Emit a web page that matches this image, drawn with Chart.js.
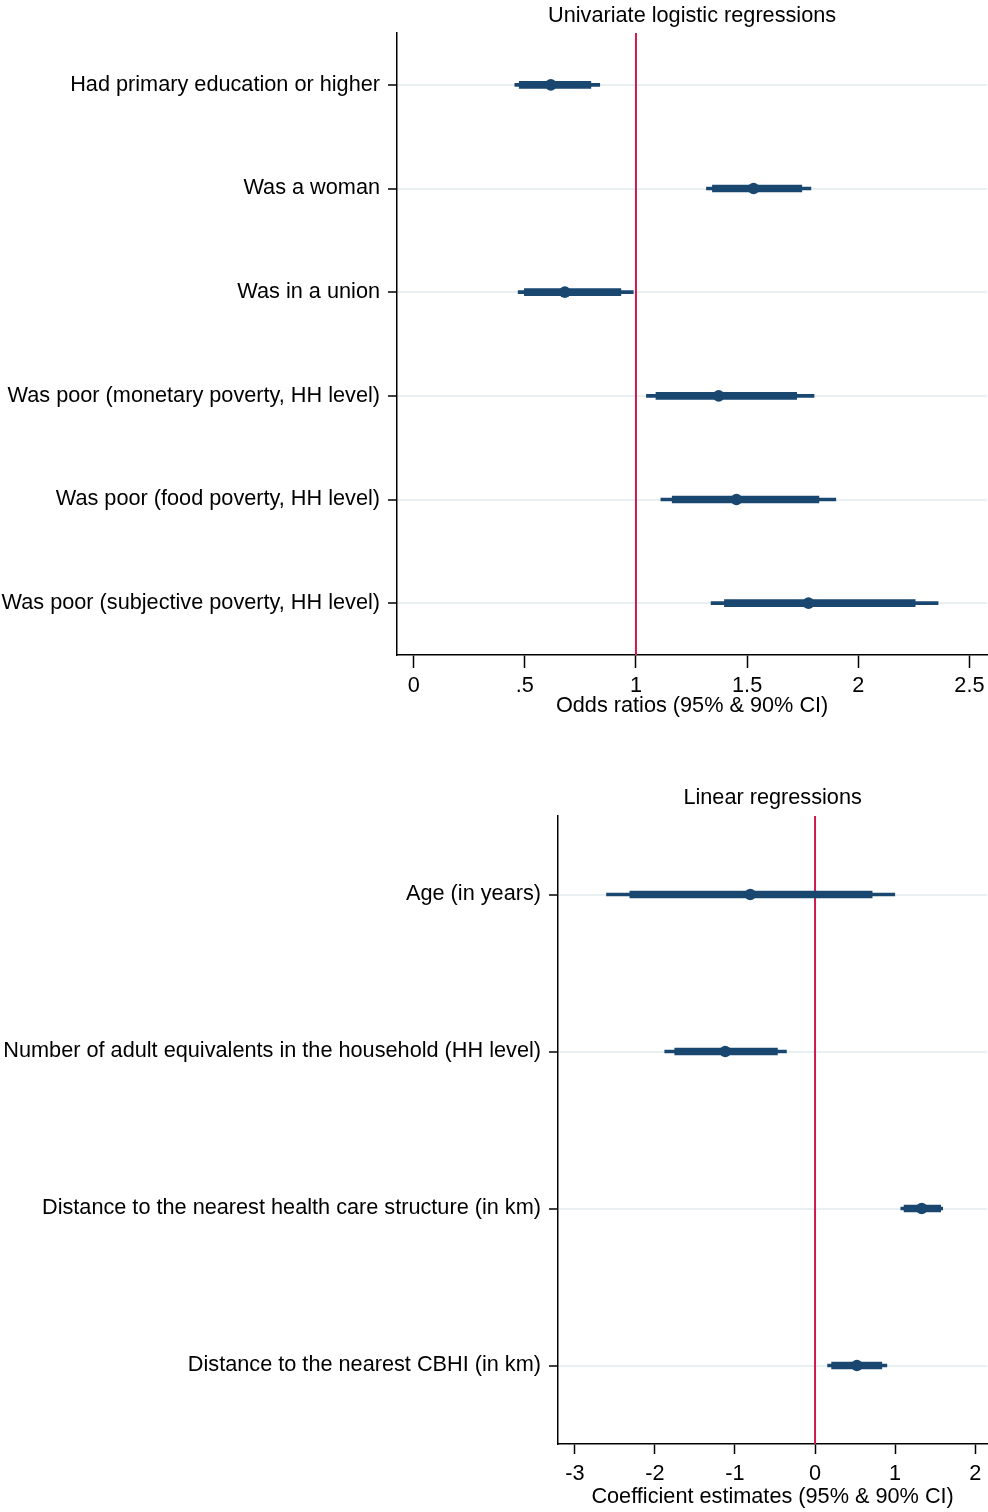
<!DOCTYPE html>
<html>
<head>
<meta charset="utf-8">
<script src="https://cdn.jsdelivr.net/npm/chart.js@4.4.1/dist/chart.umd.min.js"></script>
<style>
  html, body { margin: 0; padding: 0; background: #fff; overflow: hidden; }
  body { width: 988px; height: 1512px; position: relative; }
  .panel { position: absolute; left: 0; width: 993px; }
  #top { top: 0; height: 719px; }
  #bottom { top: 760px; height: 750px; }
</style>
</head>
<body>
<div class="panel" id="top"><canvas id="c1"></canvas></div>
<div class="panel" id="bottom"><canvas id="c2"></canvas></div>
<script>
// ---- Univariate logistic regressions (odds ratios) ----
const logitLabels = [
  'Had primary education or higher',
  'Was a woman',
  'Was in a union',
  'Was poor (monetary poverty, HH level)',
  'Was poor (food poverty, HH level)',
  'Was poor (subjective poverty, HH level)'
];
const logitOR   = [0.617, 1.529, 0.680, 1.372, 1.452, 1.776];
const logitLo95 = [0.455, 1.317, 0.470, 1.047, 1.112, 1.338];
const logitHi95 = [0.837, 1.787, 0.988, 1.801, 1.899, 2.359];
const logitLo90 = [0.475, 1.344, 0.498, 1.090, 1.163, 1.398];
const logitHi90 = [0.797, 1.746, 0.932, 1.723, 1.823, 2.256];
const logitTicks = [0, 0.5, 1, 1.5, 2, 2.5];
const logitTickLabels = ['0', '.5', '1', '1.5', '2', '2.5'];
const logitRef = 1;

// ---- Linear regressions (coefficients) ----
const linLabels = [
  'Age (in years)',
  'Number of adult equivalents in the household (HH level)',
  'Distance to the nearest health care structure (in km)',
  'Distance to the nearest CBHI (in km)'
];
const linCoef  = [-0.809, -1.121, 1.332, 0.523];
const linLo95  = [-2.604, -1.877, 1.071, 0.157];
const linHi95  = [0.996, -0.357, 1.594, 0.897];
const linLo90  = [-2.313, -1.752, 1.112, 0.207];
const linHi90  = [0.713, -0.470, 1.569, 0.834];
const linTicks = [-3, -2, -1, 0, 1, 2];
const linTickLabels = ['-3', '-2', '-1', '0', '1', '2'];
const linRef = 0;

const NAVY = '#1a476f';
const RED = '#d0184a';
const GRID = '#e9f0f2';
const FONT = 'Liberation Sans, Arial, sans-serif';
const FS = 21.7;

// Vertical reference line and panel heading drawn over the plot
const overlay = {
  id: 'overlay',
  beforeDatasetsDraw(chart, args, opts) {
    const { ctx, chartArea } = chart;
    const x = chart.scales.x.getPixelForValue(opts.ref);
    ctx.save();
    ctx.strokeStyle = RED;
    ctx.lineWidth = 2;
    ctx.beginPath();
    ctx.moveTo(x, chartArea.top);
    ctx.lineTo(x, chartArea.bottom);
    ctx.stroke();
    ctx.restore();
  },
  afterDraw(chart, args, opts) {
    const { ctx, chartArea } = chart;
    ctx.save();
    ctx.fillStyle = '#000';
    ctx.font = FS + 'px ' + FONT;
    ctx.textAlign = 'center';
    ctx.textBaseline = 'middle';
    ctx.fillText(opts.title, (chartArea.left + chartArea.right) / 2, opts.titleY);
    ctx.restore();
  }
};

function buildChart(canvasId, cfg) {
  const pairs = (lo, hi) => lo.map((v, i) => [v, hi[i]]);
  return new Chart(document.getElementById(canvasId), {
    type: 'bar',
    data: {
      labels: cfg.labels,
      datasets: [
        {
          label: '95% CI', indexAxis: 'y', grouped: false, order: 3,
          data: pairs(cfg.lo95, cfg.hi95),
          backgroundColor: NAVY, borderWidth: 0, barThickness: 3, borderSkipped: false
        },
        {
          label: '90% CI', indexAxis: 'y', grouped: false, order: 2,
          data: pairs(cfg.lo90, cfg.hi90),
          backgroundColor: NAVY, borderWidth: 0, barThickness: 7, borderSkipped: false
        },
        {
          type: 'line', label: 'Estimate', indexAxis: 'y', order: 1,
          data: cfg.est, showLine: false,
          pointRadius: 5.8, pointBackgroundColor: NAVY, pointBorderWidth: 0
        }
      ]
    },
    options: {
      indexAxis: 'y',
      responsive: true,
      maintainAspectRatio: false,
      animation: false,
      layout: { padding: { top: cfg.padTop, right: cfg.padRight, left: 0, bottom: 0 } },
      plugins: {
        legend: { display: false },
        tooltip: { enabled: false },
        overlay: { ref: cfg.ref, title: cfg.title, titleY: cfg.titleY }
      },
      scales: {
        x: {
          type: 'linear',
          min: cfg.xmin, max: cfg.xmax,
          afterBuildTicks: s => { s.ticks = cfg.ticks.map(v => ({ value: v })); },
          afterFit: s => {
            s.height = cfg.xAxisHeight;
            s.paddingLeft = 0;
            s.paddingRight = 0;
          },
          ticks: {
            autoSkip: false, maxRotation: 0,
            color: '#000', font: { family: FONT, size: FS }, padding: cfg.tickPad,
            callback: (v, i) => cfg.tickLabels[i]
          },
          grid: {
            drawOnChartArea: false, drawTicks: true,
            tickLength: cfg.xTickLen, tickColor: '#000', tickWidth: 1.5
          },
          border: { display: true, color: '#000', width: 1.5 },
          title: {
            display: true, text: cfg.xTitle, color: '#000',
            font: { family: FONT, size: FS }, padding: { top: 0, bottom: 0 }
          }
        },
        y: {
          type: 'category',
          offset: true,
          afterFit: s => { s.width = cfg.yAxisWidth; },
          ticks: {
            color: '#000', font: { family: FONT, size: FS }, padding: 8, crossAlign: 'near'
          },
          grid: {
            offset: false, color: GRID, lineWidth: 2,
            drawTicks: true, tickLength: 9, tickColor: '#000', tickWidth: 1.5
          },
          border: { display: true, color: '#000', width: 1.5 }
        }
      }
    },
    plugins: [overlay]
  });
}

buildChart('c1', {
  labels: logitLabels, est: logitOR,
  lo95: logitLo95, hi95: logitHi95, lo90: logitLo90, hi90: logitHi90,
  ticks: logitTicks, tickLabels: logitTickLabels, ref: logitRef,
  xmin: -0.075, xmax: 2.58,
  title: 'Univariate logistic regressions', titleY: 16,
  xTitle: 'Odds ratios (95% & 90% CI)',
  padTop: 33, padRight: 5, yAxisWidth: 397, xAxisHeight: 64,
  xTickLen: 13, tickPad: 5
});

buildChart('c2', {
  labels: linLabels, est: linCoef,
  lo95: linLo95, hi95: linHi95, lo90: linLo90, hi90: linHi90,
  ticks: linTicks, tickLabels: linTickLabels, ref: linRef,
  xmin: -3.21, xmax: 2.15,
  title: 'Linear regressions', titleY: 38,
  xTitle: 'Coefficient estimates (95% & 90% CI)',
  padTop: 56, padRight: 0, yAxisWidth: 558, xAxisHeight: 66,
  xTickLen: 10, tickPad: 7
});
</script>
</body>
</html>
